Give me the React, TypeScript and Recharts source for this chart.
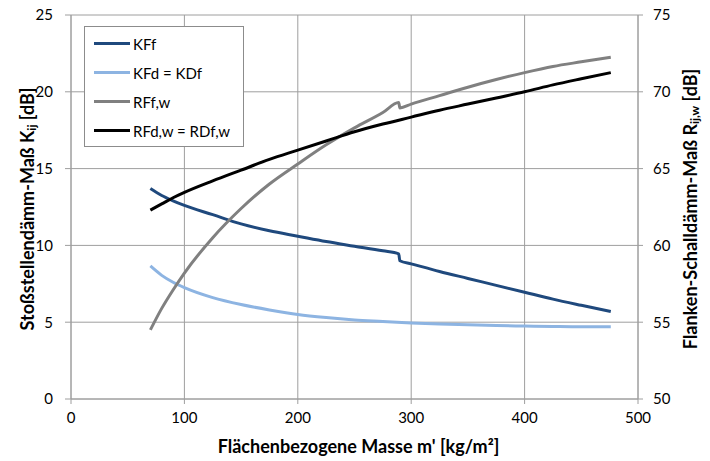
import { CartesianGrid, Label, Line, LineChart, XAxis, YAxis } from 'recharts';

// mass values (kg/m²); the flanking curves have a step near 290
const massStep = [70, 80, 90, 100, 125, 150, 175, 200, 225, 250, 275, 289, 290, 300, 325, 350, 375, 400, 425, 450, 476];
const massSmooth = [70, 80, 90, 100, 125, 150, 175, 200, 225, 250, 275, 300, 325, 350, 375, 400, 425, 450, 476];

const kff = [13.7, 13.25, 12.9, 12.6, 12.0, 11.4, 10.95, 10.6, 10.25, 9.95, 9.65, 9.45, 9.0, 8.8, 8.3, 7.85, 7.4, 6.95, 6.5, 6.1, 5.7];
const kfd = [8.66, 8.05, 7.6, 7.25, 6.6, 6.15, 5.8, 5.5, 5.3, 5.15, 5.05, 4.95, 4.88, 4.83, 4.78, 4.75, 4.72, 4.7, 4.7];
const rff = [54.5, 55.9, 57.1, 58.2, 60.5, 62.4, 64.0, 65.3, 66.55, 67.65, 68.65, 69.3, 68.95, 69.2, 69.75, 70.3, 70.8, 71.25, 71.65, 71.95, 72.25];
const rfd = [62.3, 62.7, 63.1, 63.45, 64.2, 64.9, 65.6, 66.2, 66.8, 67.4, 67.9, 68.35, 68.8, 69.2, 69.6, 70.0, 70.45, 70.85, 71.25];

const xTicks = [0, 100, 200, 300, 400, 500];
const leftTicks = [0, 5, 10, 15, 20, 25];
const rightTicks = [50, 55, 60, 65, 70, 75];

const series = [
  { key: 'KFf', label: 'KFf', color: '#1F497D', axis: 'left', data: massStep.map((m, i) => ({ m, v: kff[i] })) },
  { key: 'KFd', label: 'KFd = KDf', color: '#8DB4E2', axis: 'left', data: massSmooth.map((m, i) => ({ m, v: kfd[i] })) },
  { key: 'RFf', label: 'RFf,w', color: '#808080', axis: 'right', data: massStep.map((m, i) => ({ m, v: rff[i] })) },
  { key: 'RFd', label: 'RFd,w = RDf,w', color: '#000000', axis: 'right', data: massSmooth.map((m, i) => ({ m, v: rfd[i] })) },
];

const FONT = 'Lato, "Open Sans", sans-serif';
const GRID = '#9e9e9e';
const tickStyle = { fill: '#000', fontSize: 15, fontFamily: FONT };

function LegendBox() {
  return (
    <div
      style={{
        position: 'absolute',
        left: 84,
        top: 26,
        width: 160,
        height: 121,
        border: '1px solid #8c8c8c',
        background: '#fff',
        boxSizing: 'border-box',
        fontFamily: FONT,
        fontSize: 15,
        paddingTop: 2,
      }}
    >
      {series.map((s) => (
        <div key={s.key} style={{ display: 'flex', alignItems: 'center', height: 29 }}>
          <div style={{ marginLeft: 9, width: 36, height: 3, background: s.color, marginRight: 3 }} />
          <span style={{ color: '#000' }}>{s.label}</span>
        </div>
      ))}
    </div>
  );
}

function LeftTitle({ viewBox }: any) {
  const cx = viewBox.x + 17;
  const cy = viewBox.y + viewBox.height / 2 + 2;
  return (
    <text
      x={cx}
      y={cy}
      transform={`rotate(-90, ${cx}, ${cy})`}
      textAnchor="middle"
      dominantBaseline="central"
      fontFamily={FONT}
      fontWeight="bold"
      fontSize={18}
      fill="#000"
    >
      Stoßstellendämm-Maß K
      <tspan fontSize={12} dy={4}>ij</tspan>
      <tspan dy={-4}> [dB]</tspan>
    </text>
  );
}

function RightTitle({ viewBox }: any) {
  const cx = viewBox.x + 52;
  const cy = viewBox.y + viewBox.height / 2 + 2;
  return (
    <text
      x={cx}
      y={cy}
      transform={`rotate(-90, ${cx}, ${cy})`}
      textAnchor="middle"
      dominantBaseline="central"
      fontFamily={FONT}
      fontWeight="bold"
      fontSize={18}
      fill="#000"
    >
      Flanken-Schalldämm-Maß R
      <tspan fontSize={12} dy={4}>ij,w</tspan>
      <tspan dy={-4}> [dB]</tspan>
    </text>
  );
}

function BottomTitle({ viewBox }: any) {
  return (
    <text
      x={viewBox.x + viewBox.width / 2 + 4}
      y={viewBox.y + 47}
      textAnchor="middle"
      dominantBaseline="central"
      fontFamily={FONT}
      fontWeight="bold"
      fontSize={18}
      fill="#000"
    >
      Flächenbezogene Masse m' [kg/m²]
    </text>
  );
}

export default function App() {
  return (
    <div style={{ position: 'absolute', left: 0, top: 0, width: 710, height: 461, background: '#fff' }}>
      <LineChart width={710} height={461} margin={{ top: 15, right: 10, left: 10, bottom: 20 }}>
        <CartesianGrid yAxisId="left" stroke={GRID} strokeWidth={1} />
        <XAxis
          type="number"
          dataKey="m"
          domain={[0, 500]}
          ticks={xTicks}
          allowDuplicatedCategory={false}
          stroke={GRID}
          tickSize={5}
          tickMargin={8}
          tick={tickStyle}
          height={42}
        >
          <Label content={<BottomTitle />} />
        </XAxis>
        <YAxis
          yAxisId="left"
          domain={[0, 25]}
          ticks={leftTicks}
          stroke={GRID}
          tickSize={6}
          tickMargin={12}
          tick={tickStyle}
          width={61}
        >
          <Label content={<LeftTitle />} />
        </YAxis>
        <YAxis
          yAxisId="right"
          orientation="right"
          domain={[50, 75]}
          ticks={rightTicks}
          stroke={GRID}
          tickSize={5}
          tickMargin={10}
          tick={tickStyle}
          width={62}
        >
          <Label content={<RightTitle />} />
        </YAxis>
        {series.map((s) => (
          <Line
            key={s.key}
            yAxisId={s.axis}
            data={s.data}
            dataKey="v"
            name={s.label}
            type="monotone"
            stroke={s.color}
            strokeWidth={3}
            dot={false}
            activeDot={false}
            isAnimationActive={false}
          />
        ))}
      </LineChart>
      <LegendBox />
    </div>
  );
}
